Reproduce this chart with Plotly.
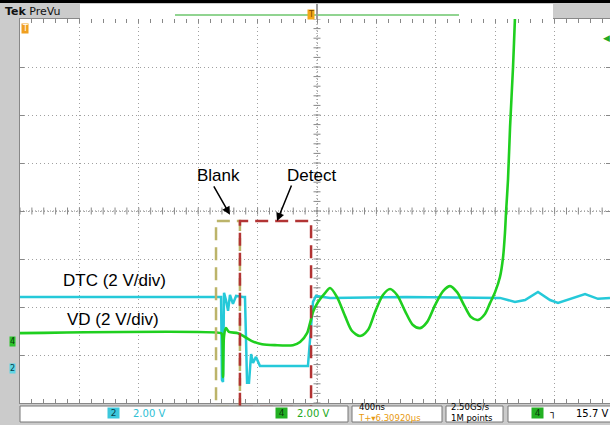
import plotly.graph_objects as go

# time axis: 400 ns/div, values in ns relative to screen centre
# DTC (channel 2) and VD (channel 4), both 2 V/div
dtc_t = [-2000, -646, -640, -633, -626, -613, -599, -586, -566, -545, -498, -485,
         -471, -458, -444, -431, -411, -384, -61, -47, -27, -7, 88, 600, 1232,
         1333, 1401, 1488, 1569, 1623, 1704, 1805, 1892, 1973]
dtc_v = [2.96, 2.96, -0.5, -0.58, 3.13, 2.83, 2.38, 3.04, 2.67, 3.0, 2.96, 2.96,
         -0.62, -0.62, 0.58, 0.21, 0.46, 0.08, 0.08, 1.17, 2.75, 3.0, 2.92, 2.96, 2.92,
         2.75, 2.83, 3.17, 2.83, 2.71, 2.88, 3.08, 2.88, 2.92]

vd_t = [-2000, -646, -640, -633, -626, -613, -593, -532, -485, -438, -370, -283,
        -162, -114, -67, -47, -27, 7, 54, 88, 135, 189, 236, 290, 343, 391, 444,
        492, 539, 593, 646, 694, 741, 795, 849, 896, 943, 990, 1037, 1084, 1131,
        1165, 1199, 1232, 1253, 1266, 1273, 1286, 1300, 1320, 1333, 1347]
vd_v = [0.33, 0.33, 0.29, -1.5, 0.21, 0.54, 0.38, 0.33, 0.17, 0.0, -0.13, -0.17,
        -0.17, -0.04, 0.33, 0.75, 1.21, 1.63, 2.0, 2.21, 1.83, 1.04, 0.42, 0.21,
        0.46, 1.21, 1.92, 2.17, 1.92, 1.25, 0.67, 0.54, 0.79, 1.5, 2.08, 2.29,
        2.04, 1.5, 1.0, 0.88, 1.13, 1.58, 2.04, 2.67, 3.5, 4.54, 5.38, 6.71, 8.92,
        11.42, 13.46, 15.46]

VOLTS_PER_DIV = 2.0
DTC_OFFSET = -3.27   # ground position, divisions from centre
VD_OFFSET = -2.71

blank_window = (-680, -519)
detect_window = (-519, -40)

W, H = 610, 425
L, T, B = 20, 19, 22
PLOT_W, PLOT_H = W - L, H - T - B


def px(x):
    return (x - L) / PLOT_W


def py(y):
    return (H - B - y) / PLOT_H


CYAN = "#25c9d9"
GREEN = "#1fcf1f"
GRAY = "#cbcbcb"
FONT = "Arial, Liberation Sans, sans-serif"

fig = go.Figure()
fig.add_trace(go.Scatter(x=dtc_t, y=dtc_v, yaxis="y2", mode="lines",
                         line=dict(color=CYAN, width=2.5)))
fig.add_trace(go.Scatter(x=vd_t, y=vd_v, yaxis="y3", mode="lines",
                         line=dict(color=GREEN, width=2.6, shape="spline", smoothing=0.8)))

# tick marks on the centre cross
cx = [i * 80 for i in range(-25, 25)]
cy = [i * 0.2 for i in range(-20, 21)]
fig.add_trace(go.Scatter(x=cx, y=[0] * len(cx), mode="markers", hoverinfo="skip",
                         marker=dict(symbol="line-ns", size=5, line=dict(width=1, color="#888"))))
fig.add_trace(go.Scatter(x=[0] * len(cy), y=cy, mode="markers", hoverinfo="skip",
                         marker=dict(symbol="line-ew", size=5, line=dict(width=1, color="#888"))))

axis_common = dict(showgrid=True, gridcolor="#a0a0a0", griddash="1px,3px", gridwidth=1,
                   zeroline=False, showticklabels=False, ticks="inside", ticklen=4,
                   tickcolor="#888", showline=True, linecolor="#888", mirror="allticks")

v2 = [(-4 - DTC_OFFSET) * VOLTS_PER_DIV, (4 - DTC_OFFSET) * VOLTS_PER_DIV]
v3 = [(-4 - VD_OFFSET) * VOLTS_PER_DIV, (4 - VD_OFFSET) * VOLTS_PER_DIV]

fig.update_layout(
    width=W, height=H, margin=dict(l=L, r=0, t=T, b=B),
    paper_bgcolor=GRAY, plot_bgcolor="white", showlegend=False,
    font=dict(family=FONT),
    xaxis=dict(range=[-2000, 1973], dtick=400, tick0=0,
               minor=dict(ticks="inside", ticklen=2, dtick=80, tickcolor="#888"),
               **axis_common),
    yaxis=dict(range=[-4, 4], dtick=1, **axis_common),
    yaxis2=dict(range=v2, overlaying="y", visible=False),
    yaxis3=dict(range=v3, overlaying="y", visible=False),
)

shapes = []
# centre cross
shapes.append(dict(type="line", xref="x", yref="paper", x0=0, x1=0, y0=0, y1=1,
                   line=dict(color="#888", width=1, dash="1px,2px"), layer="below"))
shapes.append(dict(type="line", xref="paper", yref="y", x0=0, x1=1, y0=0, y1=0,
                   line=dict(color="#888", width=1, dash="1px,2px"), layer="below"))
# Blank / Detect windows
shapes.append(dict(type="rect", xref="x", yref="paper", x0=blank_window[0], x1=blank_window[1],
                   y0=py(407), y1=py(221), line=dict(color="#bcb46a", width=2.5, dash="13px,7px")))
shapes.append(dict(type="rect", xref="x", yref="paper", x0=detect_window[0], x1=detect_window[1],
                   y0=py(407), y1=py(221), line=dict(color="#b23434", width=2.5, dash="13px,7px")))
# header
shapes.append(dict(type="rect", xref="paper", yref="paper", x0=px(0), x1=px(610), y0=py(3), y1=py(0),
                   fillcolor="black", line=dict(width=0)))
shapes.append(dict(type="rect", xref="paper", yref="paper", x0=px(80), x1=px(553), y0=py(19), y1=py(4),
                   fillcolor="white", line=dict(width=0)))
shapes.append(dict(type="line", xref="paper", yref="paper", x0=px(175), x1=px(459), y0=py(15), y1=py(15),
                   line=dict(color="#6cc66c", width=1.5)))
shapes.append(dict(type="line", xref="paper", yref="paper", x0=px(317), x1=px(317), y0=py(19), y1=py(4),
                   line=dict(color="#999", width=2)))
# bottom readout boxes
for x0, x1 in [(20, 348), (352, 442), (446, 503), (508, 612)]:
    shapes.append(dict(type="rect", xref="paper", yref="paper", x0=px(x0), x1=px(x1),
                       y0=py(422), y1=py(406), fillcolor="white",
                       line=dict(color="#777", width=1)))
fig.update_layout(shapes=shapes)

ann = []
# waveform labels
ann.append(dict(x=-1365, y=-1.44, xref="x", yref="y", text="DTC (2 V/div)", showarrow=False,
                font=dict(size=17, color="black")))
ann.append(dict(x=-1371, y=-2.25, xref="x", yref="y", text="VD (2 V/div)", showarrow=False,
                font=dict(size=17, color="black")))
ann.append(dict(x=-660, y=0.75, xref="x", yref="y", text="Blank", showarrow=False,
                font=dict(size=17, color="black")))
ann.append(dict(x=-34, y=0.75, xref="x", yref="y", text="Detect", showarrow=False,
                font=dict(size=17, color="black")))
ann.append(dict(x=-586, y=-0.08, xref="x", yref="y", text="", showarrow=True, ax=-17, ay=-30,
                arrowhead=2, arrowsize=1.1, arrowwidth=1.5, arrowcolor="black"))
ann.append(dict(x=-269, y=-0.21, xref="x", yref="y", text="", showarrow=True, ax=15, ay=-37,
                arrowhead=2, arrowsize=1.1, arrowwidth=1.5, arrowcolor="black"))


def label(x, y, text, color="black", size=10, anchor="left", bg=None):
    ann.append(dict(x=px(x), y=py(y), xref="paper", yref="paper", text=text, showarrow=False,
                    xanchor=anchor, yanchor="middle", bgcolor=bg, borderpad=0, align="left",
                    font=dict(size=size, color=color, family="DejaVu Sans, Arial")))


# header / markers
label(4, 11, "<b>Tek</b> PreVu", color="#111", size=11)
label(311, 14, "T", color="#7a4a00", size=8, anchor="center", bg="#f2a818")
label(25, 28, "T", color="white", size=8, anchor="center", bg="#f0a020")
label(12, 341, "4", color="#0a3a0a", size=8, anchor="center", bg="#2ec42e")
label(12, 368, "2", color="#08404a", size=8, anchor="center", bg="#5fd4e4")
label(606, 38, "◀", color="#22aa22", size=9, anchor="center")
# bottom readouts
label(113, 413, " 2 ", color="#08404a", size=9, anchor="center", bg="#3cc8dc")
label(132, 413, "2.00 V", color="#2ec0d4", size=10)
label(281, 413, " 4 ", color="#0a3a0a", size=9, anchor="center", bg="#22b022")
label(296, 413, "2.00 V", color="#22a822", size=10)
label(357, 412.5, "400ns<br><span style='color:#e89a10'>T+▾6.30920µs</span>", size=8.5)
label(450, 412.5, "2.50GS/s<br>1M points", size=8.5)
label(537, 413, " 4 ", color="#0a3a0a", size=9, anchor="center", bg="#22b022")
label(553, 413, "┐", size=10, anchor="center")
label(609, 413, "15.7 V", size=10, anchor="right")
fig.update_layout(annotations=ann)

fig.write_html("out.html", config={"displayModeBar": False},
               post_script="document.body.style.margin='0';document.body.style.overflow='hidden';")
